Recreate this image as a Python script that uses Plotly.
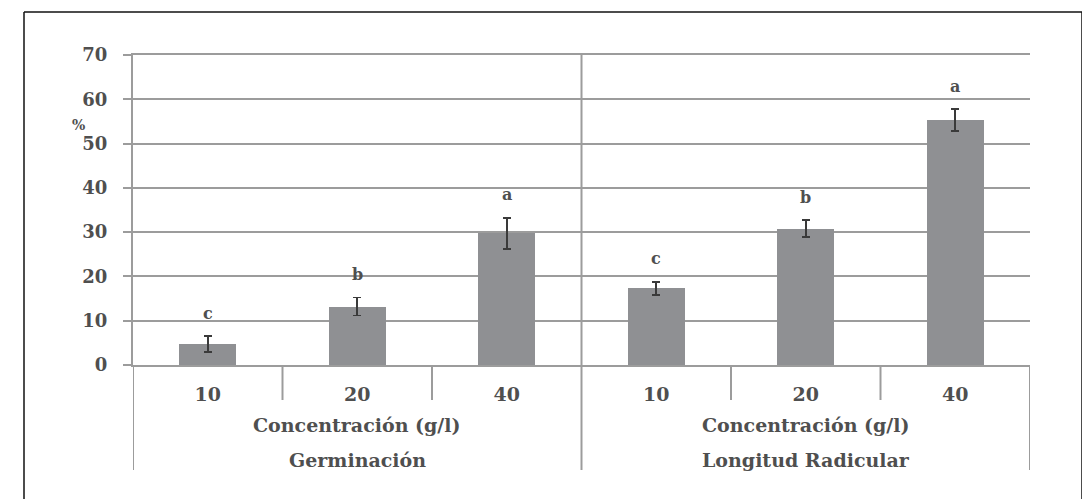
import plotly.graph_objects as go

# ---- data ----
groups = ["Germinación", "Longitud Radicular"]
concentrations = ["10", "20", "40"]
germ_values = [4.7, 13.2, 29.7]
germ_errors = [1.8, 2.0, 3.5]
raiz_values = [17.3, 30.8, 55.3]
raiz_errors = [1.5, 1.9, 2.5]
germ_letters = ["c", "b", "a"]
raiz_letters = ["c", "b", "a"]
axis_sublabel = "Concentración (g/l)"
y_label = "%"
y_ticks = [0, 10, 20, 30, 40, 50, 60, 70]

# ---- layout geometry (pixels, page coordinates; page body has an 8px margin) ----
OFF = 8
W, H = 1090 - OFF, 499 - OFF          # keep the page inside the window
PL, PR, PT, PB = 133, 1030, 55, 365   # plot area in page pixels
ML, MT = PL - OFF, PT - OFF
MR, MB = W - (PR - OFF), H - (PB - OFF)
PW, PH = PR - PL, PB - PT


def px_to_paper_x(px):
    return (px - PL) / PW


def px_to_paper_y(py):
    return (PB - py) / PH


values = germ_values + raiz_values
errors = germ_errors + raiz_errors
letters = germ_letters + raiz_letters
n_cat = len(concentrations)
positions = list(range(len(groups) * n_cat))
ticktext = concentrations * len(groups)

FONT = "DejaVu Serif"
TXT = "#4f4f4f"
GRID = "#9c9c9c"

fig = go.Figure()
fig.add_trace(go.Bar(
    x=positions, y=values,
    width=0.38,
    marker=dict(color="#8f9093", line=dict(width=0)),
    error_y=dict(type="data", array=errors, visible=True,
                 color="#3a3a3a", thickness=1.6, width=4),
    hoverinfo="x+y",
))

annotations = []
for p, v, e, L in zip(positions, values, errors, letters):
    annotations.append(dict(
        x=p, y=v + e, xref="x", yref="y", text="<b>%s</b>" % L, showarrow=False,
        yshift=23, yanchor="middle",
        font=dict(family=FONT, size=16, color=TXT)))

for gi, g in enumerate(groups):
    center = gi * n_cat + (n_cat - 1) / 2
    annotations.append(dict(
        x=center, y=px_to_paper_y(425), xref="x", yref="paper",
        text="<b>%s</b>" % axis_sublabel, showarrow=False, yanchor="middle",
        font=dict(family=FONT, size=19, color=TXT)))
    annotations.append(dict(
        x=center, y=px_to_paper_y(460), xref="x", yref="paper",
        text="<b>%s</b>" % g, showarrow=False, yanchor="middle",
        font=dict(family=FONT, size=19, color=TXT)))

annotations.append(dict(
    x=px_to_paper_x(78), y=px_to_paper_y(125), xref="paper", yref="paper",
    text="<b>%s</b>" % y_label, showarrow=False, xanchor="center", yanchor="middle",
    font=dict(family=FONT, size=14, color=TXT)))

shapes = []
# outer frame (left, top, right edges; bottom is cut off by the page)
fx0, fx1 = px_to_paper_x(24), px_to_paper_x(1082)
fy_top, fy_bot = px_to_paper_y(12), px_to_paper_y(520)
for (x0, y0, x1, y1) in [(fx0, fy_bot, fx0, fy_top), (fx0, fy_top, fx1, fy_top),
                         (fx1, fy_top, fx1, fy_bot)]:
    shapes.append(dict(type="line", xref="paper", yref="paper",
                       x0=x0, y0=y0, x1=x1, y1=y1,
                       line=dict(color="#111111", width=1.5), layer="above"))
y_long = px_to_paper_y(470)
y_short = px_to_paper_y(400)
# left axis extension, group divider, right end below the axis
for gi in range(len(groups) + 1):
    xb = gi * n_cat - 0.5
    shapes.append(dict(type="line", xref="x", yref="paper",
                       x0=xb, x1=xb, y0=y_long, y1=0,
                       line=dict(color=GRID, width=2), layer="below"))
# divider through plot area
shapes.append(dict(type="line", xref="x", yref="paper",
                   x0=n_cat - 0.5, x1=n_cat - 0.5, y0=0, y1=1,
                   line=dict(color=GRID, width=2), layer="below"))
# short category separators
for gi in range(len(groups)):
    for k in range(1, n_cat):
        xb = gi * n_cat + k - 0.5
        shapes.append(dict(type="line", xref="x", yref="paper",
                           x0=xb, x1=xb, y0=y_short, y1=0,
                           line=dict(color=GRID, width=2), layer="below"))

fig.update_layout(
    width=W, height=H,
    margin=dict(l=ML, r=MR, t=MT, b=MB, pad=0),
    paper_bgcolor="white", plot_bgcolor="white",
    showlegend=False,
    bargap=0,
    xaxis=dict(range=[-0.5, len(positions) - 0.5],
               tickmode="array", tickvals=positions, ticktext=["<b>%s</b>" % t for t in ticktext],
               ticks="", showgrid=False, zeroline=False,
               showline=True, linecolor=GRID, linewidth=2, mirror=True,
               ticklabelstandoff=11,
               tickfont=dict(family=FONT, size=19, color=TXT)),
    yaxis=dict(range=[0, 70], tickmode="array", tickvals=y_ticks,
               ticktext=["<b>%d</b>" % t for t in y_ticks],
               ticks="outside", ticklen=8, tickcolor=GRID, tickwidth=2,
               showgrid=True, gridcolor=GRID, gridwidth=2,
               zeroline=False, showline=True, linecolor=GRID, linewidth=2,
               ticklabelstandoff=12,
               tickfont=dict(family=FONT, size=18, color=TXT)),
    annotations=annotations,
    shapes=shapes,
)

fig.write_html("out.html")
